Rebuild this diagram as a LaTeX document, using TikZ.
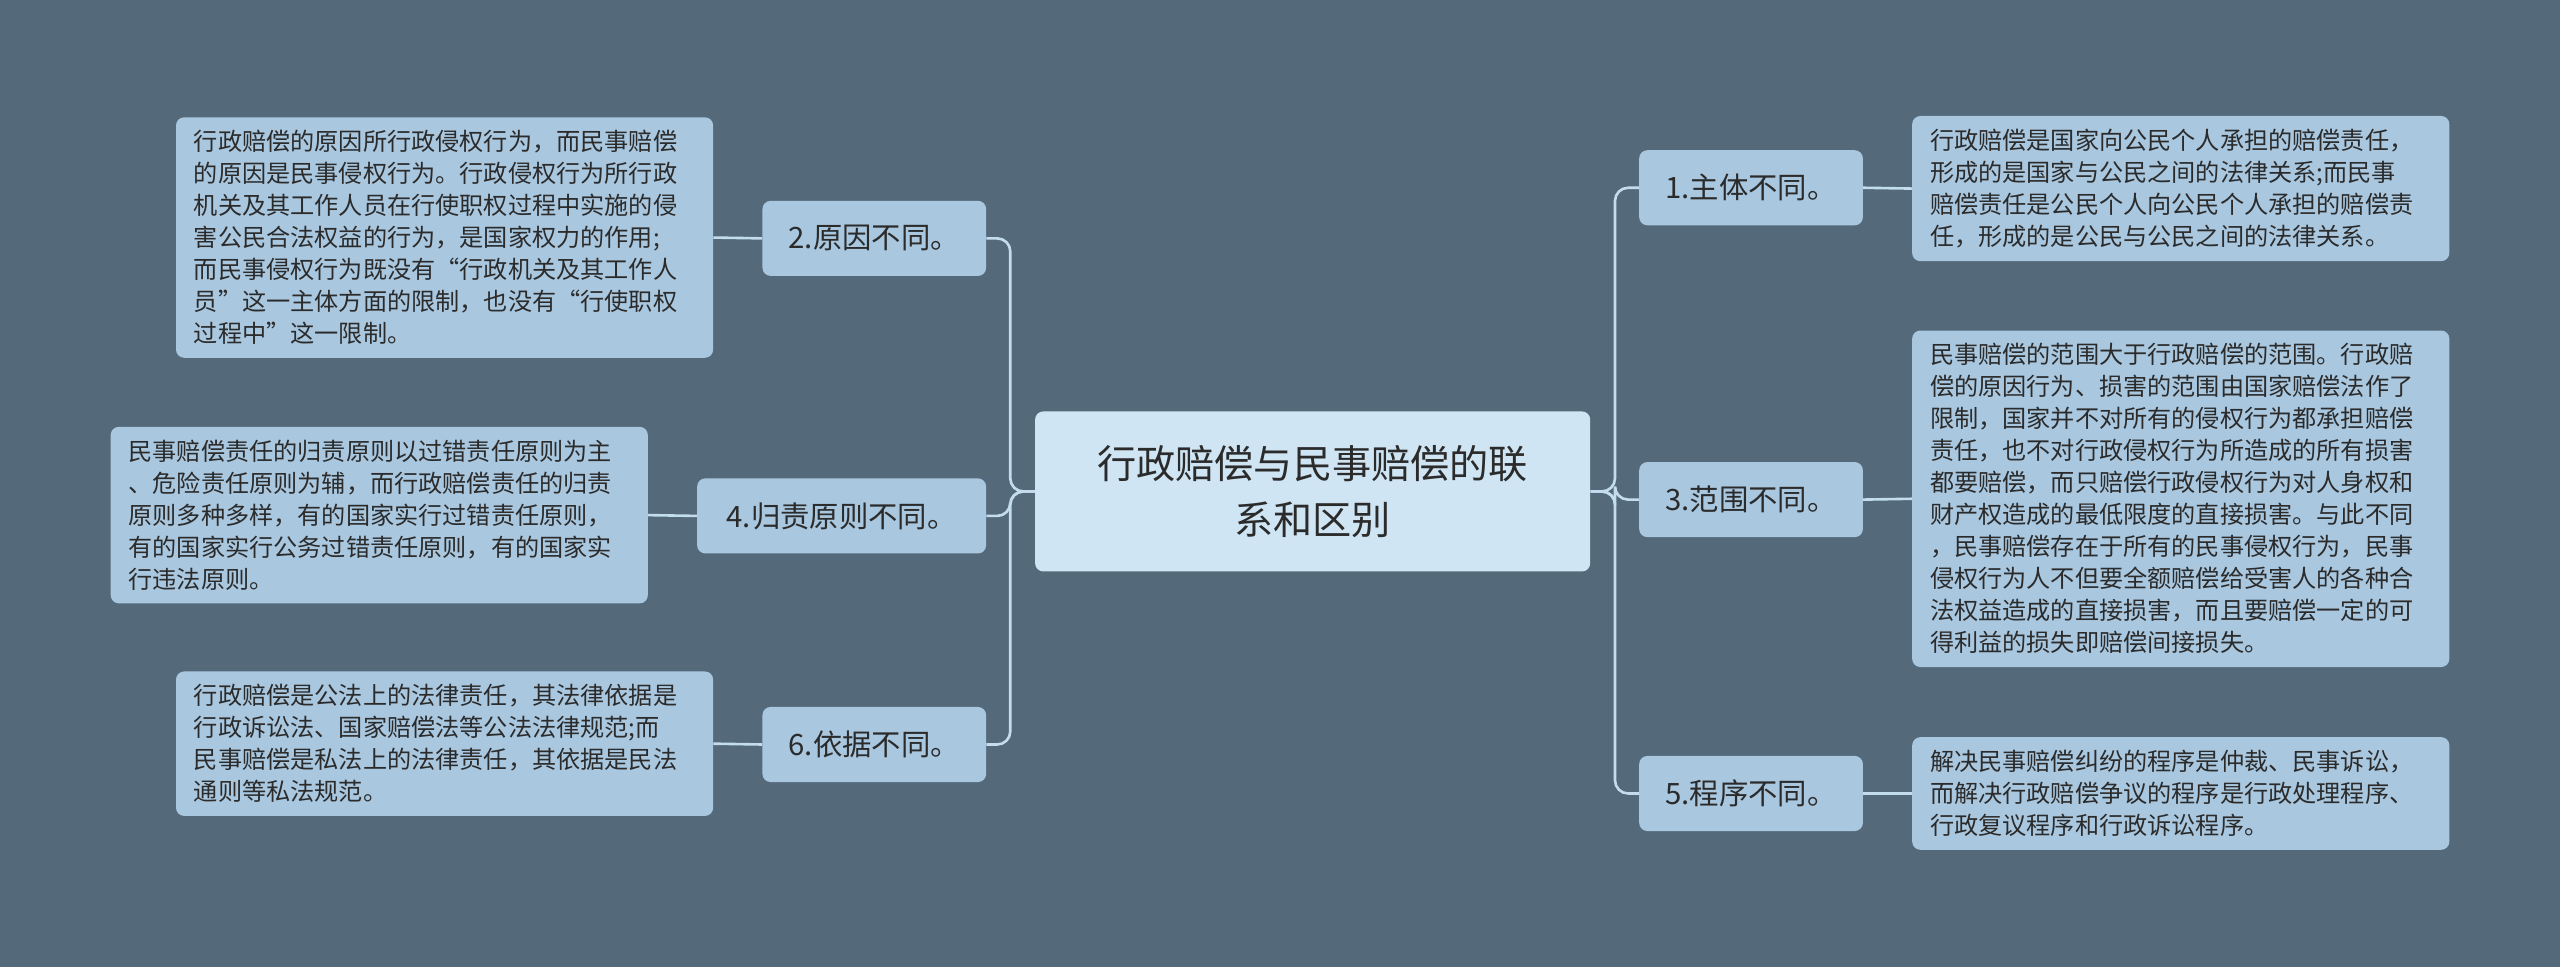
\documentclass[tikz,border=0pt]{standalone}
\usepackage{fontspec}
\setmainfont{Noto Sans CJK SC}
\definecolor{bg}{HTML}{546A7B}
\definecolor{leafc}{HTML}{A9C7DF}
\definecolor{rootc}{HTML}{CFE5F3}
\definecolor{linec}{HTML}{C3DCEE}
\definecolor{txt}{HTML}{2B2B2B}
\tikzset{
 base/.style={rounded corners=5pt, text=txt, inner sep=0pt},
 rootbox/.style={base, fill=rootc, minimum width=340pt, minimum height=98pt, align=center, font=\fontsize{24}{34}\selectfont},
 branch/.style={base, fill=leafc, minimum height=46pt, font=\fontsize{18}{22}\selectfont},
 leaf/.style={base, fill=leafc, text width=307pt, align=left, inner xsep=11pt, inner ysep=8pt, font=\fontsize{14.8}{19.6}\selectfont},
 conn/.style={draw=linec, line width=1.6pt, rounded corners=8pt}
}
\begin{document}
\begin{tikzpicture}[x=1pt,y=-1pt]
\fill[bg] (0,0) rectangle (1568,592);
\useasboundingbox (0,0) rectangle (1568,592);
\node[rootbox] (root) at (804,301) {行政赔偿与民事赔偿的联\\系和区别};
\node[branch, minimum width=137pt] (b1) at (1072.5,115) {1.主体不同。};
\node[branch, minimum width=137pt] (b3) at (1072.5,306) {3.范围不同。};
\node[branch, minimum width=137pt] (b5) at (1072.5,486) {5.程序不同。};
\node[branch, minimum width=137pt] (b2) at (535.5,146) {2.原因不同。};
\node[branch, minimum width=177pt] (b4) at (515.5,316) {4.归责原则不同。};
\node[branch, minimum width=137pt] (b6) at (535.5,456) {6.依据不同。};
\node[leaf, anchor=west] (l1) at (1171,115.5) {行政赔偿是国家向公民个人承担的赔偿责任，\\形成的是国家与公民之间的法律关系;而民事\\赔偿责任是公民个人向公民个人承担的赔偿责\\任，形成的是公民与公民之间的法律关系。};
\node[leaf, anchor=west] (l3) at (1171,305.5) {民事赔偿的范围大于行政赔偿的范围。行政赔\\偿的原因行为、损害的范围由国家赔偿法作了\\限制，国家并不对所有的侵权行为都承担赔偿\\责任，也不对行政侵权行为所造成的所有损害\\都要赔偿，而只赔偿行政侵权行为对人身权和\\财产权造成的最低限度的直接损害。与此不同\\，民事赔偿存在于所有的民事侵权行为，民事\\侵权行为人不但要全额赔偿给受害人的各种合\\法权益造成的直接损害，而且要赔偿一定的可\\得利益的损失即赔偿间接损失。};
\node[leaf, anchor=west] (l5) at (1171,486) {解决民事赔偿纠纷的程序是仲裁、民事诉讼，\\而解决行政赔偿争议的程序是行政处理程序、\\行政复议程序和行政诉讼程序。};
\node[leaf, anchor=east] (l2) at (437,145.5) {行政赔偿的原因所行政侵权行为，而民事赔偿\\的原因是民事侵权行为。行政侵权行为所行政\\机关及其工作人员在行使职权过程中实施的侵\\害公民合法权益的行为，是国家权力的作用;\\而民事侵权行为既没有“行政机关及其工作人\\员”这一主体方面的限制，也没有“行使职权\\过程中”这一限制。};
\node[leaf, anchor=east] (l4) at (397,315.5) {民事赔偿责任的归责原则以过错责任原则为主\\、危险责任原则为辅，而行政赔偿责任的归责\\原则多种多样，有的国家实行过错责任原则，\\有的国家实行公务过错责任原则，有的国家实\\行违法原则。};
\node[leaf, anchor=east] (l6) at (437,455.5) {行政赔偿是公法上的法律责任，其法律依据是\\行政诉讼法、国家赔偿法等公法法律规范;而\\民事赔偿是私法上的法律责任，其依据是民法\\通则等私法规范。};
\foreach \b in {b1,b3,b5} \draw[conn] (root.east) -- ++(15,0) |- (\b.west);
\foreach \b in {b2,b4,b6} \draw[conn] (root.west) -- ++(-15,0) |- (\b.east);
\draw[conn] (b1.east) -- (l1.west);
\draw[conn] (b3.east) -- (l3.west);
\draw[conn] (b5.east) -- (l5.west);
\draw[conn] (b2.west) -- (l2.east);
\draw[conn] (b4.west) -- (l4.east);
\draw[conn] (b6.west) -- (l6.east);
\end{tikzpicture}
\end{document}
